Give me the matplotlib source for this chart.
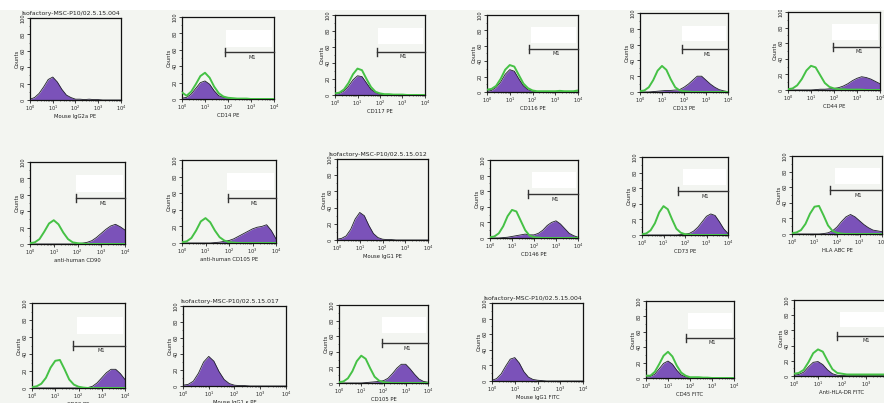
import matplotlib
matplotlib.use("Agg")
import matplotlib.pyplot as plt
from matplotlib.patches import Rectangle
import numpy as np

# ---------------- data ----------------
bin_exp = [0.0, 0.2, 0.4, 0.6, 0.8, 1.0, 1.2, 1.4, 1.6, 1.8, 2.0,
           2.2, 2.4, 2.6, 2.8, 3.0, 3.2, 3.4, 3.6, 3.8, 4.0]

x_labels = ["Mouse IgG2a PE", "CD14 PE", "CD117 PE", "CD116 PE", "CD13 PE", "CD44 PE",
            "anti-human CD90", "anti-human CD105 PE", "Mouse IgG1 PE", "CD146 PE", "CD73 PE", "HLA ABC PE",
            "CD29 PE", "Mouse IgG1 \u03ba PE", "CD105 PE", "Mouse IgG1 FITC", "CD45 FITC", "Anti-HLA-DR FITC"]

titles = ["Isofactory-MSC-P10/02.5.15.004", None, None, None, None, None,
          None, None, "Isofactory-MSC-P10/02.5.15.012", None, None, None,
          None, "Isofactory-MSC-P10/02.5.15.017", None, "Isofactory-MSC-P10/02.5.15.004", None, None]

purple_vals = [
    [1, 3, 8, 16, 25, 28, 22, 13, 6, 3, 1, 1, 0.5, 1, 0.5, 0.5, 0, 0, 0, 0, 0],
    [1, 2, 6, 13, 20, 22, 18, 10, 4, 2, 1, 0.5, 0, 0, 0, 0, 0, 0, 0, 0, 0],
    [1, 2, 5, 11, 19, 24, 23, 15, 7, 3, 1, 0.5, 0.5, 0, 0, 0, 0, 0, 0, 0, 0],
    [1, 2, 6, 13, 23, 29, 27, 17, 8, 3, 1, 0.5, 0.5, 0, 0, 0, 0, 0, 0, 0, 0],
    [0, 0, 0, 0.5, 1, 1.5, 2, 2, 2.5, 3, 6, 10, 15, 20, 20, 15, 10, 6, 3, 1.5, 0.5],
    [0, 0, 0, 0, 0, 0, 0.5, 1, 1, 1.5, 2, 3, 5, 8, 12, 15, 17, 16, 14, 11, 8],
    [0, 0, 0, 0, 0, 0, 0, 0, 0, 0, 0.5, 1, 2, 4, 8, 13, 18, 22, 24, 21, 17],
    [0, 0, 0, 0, 0, 0, 0, 0.5, 1, 2, 3, 5, 8, 11, 14, 17, 19, 20, 22, 15, 5],
    [1, 2, 5, 13, 26, 34, 30, 18, 8, 3, 1, 0.5, 0.5, 0, 0, 0, 0, 0, 0, 0, 0],
    [0, 0, 0, 0.5, 1, 2, 3, 4, 5, 4, 4, 6, 10, 16, 20, 22, 18, 12, 6, 3, 1],
    [0, 0, 0, 0, 0, 0, 0, 0, 0, 0.5, 1, 2, 5, 10, 17, 24, 27, 25, 17, 8, 2],
    [0, 0, 0, 0, 0, 0, 0, 0.5, 1.5, 4, 9, 16, 22, 25, 22, 17, 12, 8, 5, 4, 3],
    [0, 0, 0, 0, 0, 0, 0, 0, 0, 0, 0, 0, 0.5, 2, 6, 12, 18, 22, 22, 17, 10],
    [1, 2, 6, 16, 30, 37, 31, 18, 8, 3, 1, 0.5, 0.5, 0, 0, 0, 0, 0, 0, 0, 0],
    [0, 0, 0, 0, 0, 0, 0.5, 1, 1.5, 2, 3, 6, 12, 19, 24, 24, 18, 11, 5, 2, 1],
    [1, 3, 9, 19, 28, 30, 23, 12, 5, 2, 1, 0.5, 0, 0, 0, 0, 0, 0, 0, 0, 0],
    [1, 2, 5, 12, 19, 22, 18, 10, 4, 1.5, 0.5, 0, 0, 0, 0, 0, 0, 0, 0, 0, 0],
    [1, 2, 5, 12, 18, 19, 15, 8, 3, 1, 0.5, 0.5, 0.5, 0.5, 0.5, 0.5, 0.5, 0.5, 0.5, 0.5, 0.5],
]

green_vals = [
    None,
    [8, 4, 9, 18, 28, 32, 26, 15, 7, 3, 1.5, 1, 0.5, 0.5, 0.5, 0, 0, 0, 0, 0, 0],
    [2, 3, 7, 15, 26, 33, 31, 20, 10, 4, 2, 1, 1, 0.5, 0.5, 0.5, 0, 0, 0, 0, 0],
    [3, 4, 8, 17, 29, 35, 33, 22, 11, 5, 2, 1, 1, 1, 1, 1, 1.5, 1, 1, 1, 2],
    [1, 2, 6, 15, 27, 33, 28, 16, 6, 2, 1, 0.5, 0, 0, 0, 0, 0, 0, 0, 0, 0],
    [1, 2, 6, 14, 25, 31, 29, 19, 9, 4, 2, 1, 1, 0.5, 0.5, 0.5, 0.5, 0, 0, 0, 0],
    [1, 2, 6, 15, 25, 29, 24, 14, 6, 2, 1, 0.5, 0, 0, 0, 0, 0, 0, 0, 0, 0],
    [1, 2, 6, 15, 26, 30, 25, 15, 7, 3, 1, 0.5, 0, 0, 0, 0, 0, 0, 0, 0, 0],
    None,
    [1, 2, 6, 15, 28, 36, 34, 22, 10, 3, 1, 0.5, 0, 0, 0, 0, 0, 0, 0, 0, 0],
    [1, 2, 6, 15, 29, 37, 33, 20, 8, 3, 1, 0.5, 0, 0, 0, 0, 0, 0, 0, 0, 0],
    [1, 2, 5, 13, 26, 35, 36, 24, 11, 4, 1.5, 0.5, 0, 0, 0, 0, 0, 0, 0, 0, 0],
    [1, 2, 5, 12, 24, 32, 33, 22, 10, 4, 1.5, 0.5, 0, 0, 0, 0, 0, 0, 0, 0, 0],
    None,
    [1, 2, 6, 15, 28, 35, 31, 19, 8, 3, 1, 0.5, 0, 0, 0, 0, 0, 0, 0, 0, 0],
    None,
    [3, 3, 8, 18, 29, 34, 28, 16, 7, 3, 1, 1, 1, 0.5, 0.5, 0, 0, 0, 0, 0, 0],
    [3, 4, 8, 18, 30, 35, 32, 20, 9, 4, 3, 2, 2, 2, 2, 2, 2, 2, 2, 2, 2],
]

m1_start = [None, 1.87, 1.87, 1.85, 1.9, 1.96,
            1.94, 1.96, None, 1.73, 1.67, 1.69,
            1.76, None, 1.93, None, 1.82, 1.8]
m1_level = [None, 57, 54, 56, 54, 55,
            56, 54, None, 56, 56, 56,
            50, None, 51, None, 52, 53]

# ---------------- layout (pixel boxes: left, top, right, bottom) ----------------
W, H = 884, 403
boxes = [
    (30, 18, 121, 100), (182, 17, 274, 99), (335, 15, 425, 95),
    (487, 15, 578, 92), (640, 13, 728, 92), (788, 12, 880, 90),
    (30, 162, 125, 244), (182, 160, 276, 243), (337, 159, 428, 240),
    (490, 160, 578, 238), (642, 157, 728, 235), (792, 156, 882, 234),
    (32, 303, 125, 388), (183, 306, 286, 386), (339, 305, 428, 383),
    (492, 303, 583, 381), (646, 301, 734, 378), (794, 300, 890, 376),
]

BG = "#f3f5f1"
PURPLE = "#7b52b9"
GREEN = "#45c145"
DARK = "#1e1e2a"

fig = plt.figure(figsize=(W / 100, H / 100), dpi=100, facecolor=BG)
# white band at the very top of the scan
fig.patches.append(Rectangle((0, 1 - 10 / H), 1, 10 / H, transform=fig.transFigure,
                             facecolor="white", edgecolor="none", zorder=0))

xs = np.power(10.0, np.array(bin_exp))

for k, (l, t, r, b) in enumerate(boxes):
    ax = fig.add_axes([l / W, 1 - b / H, (r - l) / W, (b - t) / H])
    ax.set_facecolor(BG)
    ax.set_xscale("log")
    ax.set_xlim(1, 1e4)
    ax.set_ylim(0, 100)

    pv = np.array(purple_vals[k], dtype=float)
    ax.fill_between(xs, 0, pv, color=PURPLE, lw=0, zorder=2)
    ax.plot(xs, pv, color=DARK, lw=0.6, zorder=3)
    if green_vals[k] is not None:
        ax.plot(xs, green_vals[k], color=GREEN, lw=1.4, zorder=4)

    if m1_start[k] is not None:
        # blanked-out statistics box
        ax.add_patch(Rectangle((0.48, 0.64), 0.5, 0.2, transform=ax.transAxes,
                               facecolor="white", edgecolor="none", zorder=1))
        s = 10 ** m1_start[k]
        yv = m1_level[k]
        ax.plot([s, 1e4], [yv, yv], color="#333333", lw=1.0, zorder=5, clip_on=False)
        ax.plot([s, s], [yv - 5, yv + 5], color="#333333", lw=1.0, zorder=5)
        xm = 10 ** (m1_start[k] + (4 - m1_start[k]) * 0.55)
        ax.text(xm, yv - 3, "M1", fontsize=3.6, ha="center", va="top", color="#222222")

    for sp in ax.spines.values():
        sp.set_color("#111111")
        sp.set_linewidth(0.9)

    ax.set_xticks([1, 10, 100, 1000, 10000])
    ax.set_xticklabels(["$10^{0}$", "$10^{1}$", "$10^{2}$", "$10^{3}$", "$10^{4}$"])
    ax.set_yticks([0, 20, 40, 60, 80, 100])
    ax.set_yticks([10, 30, 50, 70, 90], minor=True)
    ax.tick_params(axis="both", which="major", labelsize=3.6, length=2, width=0.6,
                   pad=1, colors="#222222")
    ax.tick_params(axis="both", which="minor", length=1, width=0.4, colors="#222222")
    for lab in ax.get_yticklabels():
        lab.set_rotation(90)
        lab.set_va("center")

    ax.set_xlabel(x_labels[k], fontsize=3.8, labelpad=0.5, color="#222222")
    ax.set_ylabel("Counts", fontsize=3.8, labelpad=1, color="#222222")
    if titles[k] is not None:
        ax.text(0.45, 1.025, titles[k], transform=ax.transAxes, fontsize=4.4,
                ha="center", va="bottom", color="#222222")

fig.savefig("out.png", dpi=100, facecolor=BG)
